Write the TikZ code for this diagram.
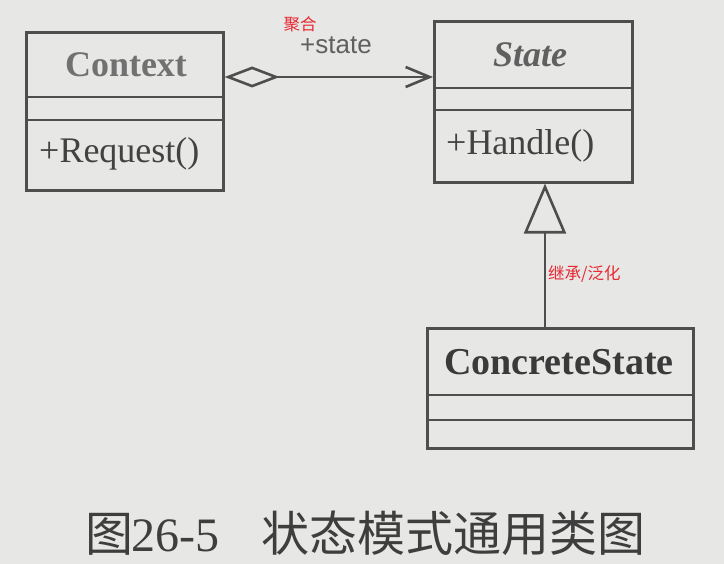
\documentclass[tikz,border=0pt]{standalone}
\usepackage{fontspec}
\setmainfont{Liberation Serif}
\newfontfamily\sansfont{Liberation Sans}
\newfontfamily\cjk{Noto Sans CJK SC}
\usetikzlibrary{arrows.meta}

\definecolor{paper}{RGB}{231,231,229}
\definecolor{ink}{RGB}{78,78,78}
\definecolor{note}{RGB}{232,40,50}

\tikzset{
  classbox/.style={draw=ink, line width=2.6pt, anchor=north west, inner sep=0pt},
  divider/.style={draw=ink, line width=2.6pt},
  classname/.style={font=\fontsize{36}{40}\selectfont\bfseries, inner sep=0pt},
  member/.style={font=\fontsize{36}{40}\selectfont, text=ink!85!black, inner sep=0pt, anchor=west},
  link/.style={draw=ink, line width=2.6pt},
  redlabel/.style={font=\cjk\fontsize{16.5}{18}\selectfont, text=note, inner sep=0pt},
}

\begin{document}
\begin{tikzpicture}[x=1pt,y=-1pt]
  \fill[paper] (0,0) rectangle (724,564);
  \useasboundingbox (0,0) rectangle (724,564);

  % Context class
  \node[classbox, minimum width=197pt, minimum height=158pt] (context) at (25,31) {};
  \draw[divider] (context.west |- 0,97) -- (context.east |- 0,97);
  \draw[divider] (context.west |- 0,120) -- (context.east |- 0,120);
  \node[classname, text=ink!80] (contextname) at (126,65) {Context};
  \node[member] (request) at (39,154) {+Request()};

  % State class
  \node[classbox, minimum width=198pt, minimum height=161pt] (state) at (433,20) {};
  \draw[divider] (state.west |- 0,88) -- (state.east |- 0,88);
  \draw[divider] (state.west |- 0,110) -- (state.east |- 0,110);
  \node[classname, text=ink!90, font=\fontsize{36}{40}\selectfont\bfseries\itshape] (statename) at (530,55) {State};
  \node[member] (handle) at (446,146) {+Handle()};

  % ConcreteState class
  \node[classbox, minimum width=266pt, minimum height=120pt] (concrete) at (426,327) {};
  \draw[divider] (concrete.west |- 0,395) -- (concrete.east |- 0,395);
  \draw[divider] (concrete.west |- 0,420) -- (concrete.east |- 0,420);
  \node[classname, text=ink!75!black, font=\fontsize{38}{42}\selectfont\bfseries] (concretename) at (559,362) {ConcreteState};

  % aggregation: Context holds a State
  \draw[link, {Diamond[open, length=55pt, width=21pt, line width=2.6pt]}-{Straight Barb[length=24pt, width=20pt, line width=2.6pt]}]
    (context.east |- 0,77) -- (state.west |- 0,77);
  \node[font=\sansfont\fontsize{26}{28}\selectfont, text=ink!90, inner sep=0pt] (rolename) at (336,45) {+state};
  \node[redlabel] (aggrnote) at (300,24) {聚合};

  % generalization: ConcreteState inherits State
  \draw[link, -{Triangle[open, length=50pt, width=42pt, line width=2.6pt]}]
    (concrete.north -| 545,0) -- (state.south -| 545,0);
  \node[redlabel, anchor=west] (inhnote) at (548,274) {继承/泛化};

  % caption
  \node[anchor=west, inner sep=0pt, text=ink!80!black, font=\fontsize{48}{52}\selectfont] (caption) at (85,533)
    {{\cjk 图}\kern-2pt 26-5\hspace{42pt}{\cjk 状态模式通用类图}};
\end{tikzpicture}
\end{document}
